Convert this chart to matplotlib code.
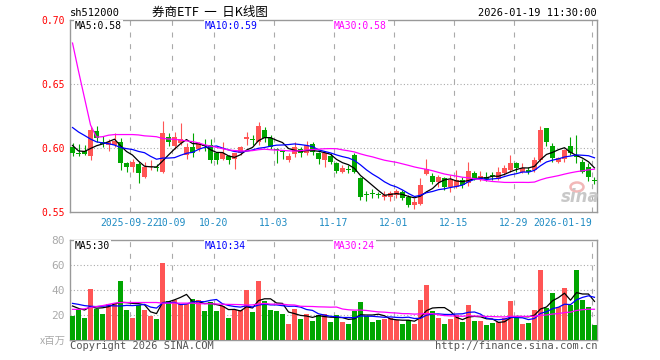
import matplotlib
matplotlib.use('Agg')
import matplotlib.pyplot as plt
from matplotlib.patches import Ellipse
import numpy as np
import pandas as pd

plt.rcParams['font.family'] = ['DejaVu Sans Mono']
CJK = ['Noto Sans CJK SC', 'DejaVu Sans']

# daily candles, 2025-09-08 .. 2026-01-19 (88 trading days)
opens = [0.6010, 0.5960, 0.5979, 0.5940, 0.6135, 0.6045, 0.6025, 0.6025, 0.6045, 0.5880,
         0.5854, 0.5875, 0.5776, 0.5848, 0.5850, 0.5815, 0.6083, 0.6016, 0.6036, 0.5945,
         0.6010, 0.5990, 0.6026, 0.6023, 0.5958, 0.5914, 0.5938, 0.5911, 0.5958, 0.6068,
         0.6065, 0.6050, 0.6141, 0.6075, 0.5988, 0.5975, 0.5906, 0.5953, 0.5990, 0.5963,
         0.6029, 0.5958, 0.5906, 0.5940, 0.5885, 0.5815, 0.5836, 0.5945, 0.5768, 0.5635,
         0.5648, 0.5636, 0.5620, 0.5615, 0.5633, 0.5659, 0.5620, 0.5554, 0.5562, 0.5797,
         0.5784, 0.5737, 0.5763, 0.5698, 0.5698, 0.5750, 0.5723, 0.5807, 0.5760, 0.5776,
         0.5782, 0.5760, 0.5807, 0.5828, 0.5880, 0.5815, 0.5828, 0.5828, 0.5906, 0.6154,
         0.6016, 0.5893, 0.5912, 0.6016, 0.5945, 0.5893, 0.5854, 0.5747]
closes = [0.5963, 0.5955, 0.5955, 0.6140, 0.6075, 0.6032, 0.6045, 0.6052, 0.5885, 0.5849,
          0.5893, 0.5807, 0.5854, 0.5860, 0.5846, 0.6120, 0.6049, 0.6083, 0.6068, 0.6010,
          0.5963, 0.6037, 0.6016, 0.5906, 0.5906, 0.5958, 0.5906, 0.5958, 0.6010, 0.6088,
          0.6060, 0.6172, 0.6075, 0.6010, 0.5984, 0.5972, 0.5938, 0.6010, 0.5958, 0.6023,
          0.5971, 0.5911, 0.5958, 0.5893, 0.5823, 0.5841, 0.5831, 0.5815, 0.5615, 0.5632,
          0.5643, 0.5632, 0.5633, 0.5646, 0.5667, 0.5608, 0.5554, 0.5580, 0.5711, 0.5834,
          0.5737, 0.5776, 0.5698, 0.5750, 0.5750, 0.5711, 0.5820, 0.5768, 0.5780, 0.5755,
          0.5778, 0.5815, 0.5841, 0.5885, 0.5841, 0.5841, 0.5812, 0.5906, 0.6141, 0.6049,
          0.5919, 0.5919, 0.5984, 0.5958, 0.5930, 0.5815, 0.5776, 0.5744]
highs = [0.6039, 0.6030, 0.6025, 0.6172, 0.6170, 0.6090, 0.6070, 0.6120, 0.6075, 0.5893,
         0.5912, 0.5893, 0.5893, 0.5906, 0.5877, 0.6210, 0.6115, 0.6125, 0.6197, 0.6041,
         0.6120, 0.6045, 0.6068, 0.6068, 0.5971, 0.6045, 0.5945, 0.5963, 0.6016, 0.6127,
         0.6102, 0.6205, 0.6167, 0.6102, 0.5998, 0.5984, 0.5963, 0.6045, 0.6010, 0.6057,
         0.6049, 0.5971, 0.5971, 0.5958, 0.5893, 0.5867, 0.5867, 0.5958, 0.5776, 0.5664,
         0.5677, 0.5656, 0.5664, 0.5664, 0.5682, 0.5672, 0.5633, 0.5607, 0.5763, 0.5912,
         0.5802, 0.5789, 0.5776, 0.5789, 0.5828, 0.5776, 0.5893, 0.5823, 0.5823, 0.5815,
         0.5815, 0.5849, 0.5867, 0.5945, 0.5893, 0.5885, 0.5854, 0.5932, 0.6172, 0.6160,
         0.6041, 0.5932, 0.5992, 0.6083, 0.6102, 0.5912, 0.5880, 0.5776]
lows = [0.5938, 0.5940, 0.5945, 0.5906, 0.6050, 0.6010, 0.5980, 0.6005, 0.5830, 0.5815,
        0.5815, 0.5729, 0.5763, 0.5830, 0.5822, 0.5802, 0.6016, 0.5995, 0.6020, 0.5912,
        0.5932, 0.5975, 0.5979, 0.5880, 0.5875, 0.5906, 0.5875, 0.5836, 0.5945, 0.6023,
        0.6023, 0.6023, 0.6045, 0.5990, 0.5885, 0.5912, 0.5891, 0.5932, 0.5932, 0.5945,
        0.5945, 0.5875, 0.5850, 0.5875, 0.5807, 0.5802, 0.5802, 0.5802, 0.5594, 0.5589,
        0.5612, 0.5612, 0.5594, 0.5586, 0.5612, 0.5594, 0.5540, 0.5523, 0.5554, 0.5789,
        0.5716, 0.5698, 0.5672, 0.5659, 0.5685, 0.5685, 0.5705, 0.5750, 0.5742, 0.5742,
        0.5750, 0.5752, 0.5789, 0.5815, 0.5815, 0.5802, 0.5797, 0.5815, 0.5893, 0.6016,
        0.5893, 0.5880, 0.5893, 0.5945, 0.5880, 0.5802, 0.5745, 0.5719]
# volume in millions
volumes = [19.2, 24.5, 17.6, 40.8, 25.1, 20.8, 28.8, 28.8, 47.2, 24.0,
           17.6, 28.0, 24.0, 19.2, 16.8, 61.6, 31.2, 32.0, 28.8, 28.8,
           32.8, 32.0, 23.2, 30.4, 23.2, 27.2, 17.6, 24.0, 24.0, 40.0,
           22.4, 47.2, 31.2, 24.0, 23.2, 20.8, 12.8, 24.8, 16.8, 20.8,
           15.2, 20.0, 20.8, 14.4, 20.0, 14.4, 12.8, 23.2, 30.4, 19.2,
           14.4, 16.0, 16.8, 17.6, 16.0, 12.8, 16.0, 12.8, 32.0, 44.0,
           23.2, 17.6, 12.8, 16.8, 20.0, 14.4, 28.0, 15.2, 15.2, 12.0,
           13.6, 14.4, 17.6, 31.2, 17.6, 12.8, 13.6, 24.0, 56.0, 25.6,
           37.6, 26.4, 41.6, 28.0, 56.0, 32.0, 26.4, 12.0]

# moving-average values before their window fills
ma5_head = [0.6020, 0.5977, 0.5973, 0.5996]
ma10_head = [0.6160, 0.6125, 0.6098, 0.6070, 0.6048, 0.6040, 0.6034, 0.6023, 0.6004]
ma30_head = [0.682, 0.660, 0.639, 0.618, 0.6085, 0.6088, 0.6100, 0.6105, 0.6105, 0.6105,
             0.6105, 0.6102, 0.6095, 0.6092, 0.6088, 0.6075, 0.6070, 0.6068, 0.6062, 0.6055,
             0.6050, 0.6040, 0.6025, 0.6015, 0.6005, 0.5995, 0.5985, 0.5980, 0.5978]
vma5_head = [27.2, 25.3, 24.0, 26.7]
vma10_head = [29.3, 28.5, 27.5, 27.0, 26.7, 27.0, 27.5, 27.3, 27.2]
vma30_head = [24.5, 24.5, 25.0, 26.0, 26.8, 27.5, 28.5, 29.5, 30.0, 30.0,
              30.0, 30.0, 30.0, 30.0, 30.0, 29.5, 29.5, 29.5, 29.5, 29.5,
              29.5, 29.0, 29.0, 29.0, 28.8, 28.6, 28.5, 28.4, 28.3]

tick_idx = [10, 17, 24, 34, 44, 54, 64, 74, 87]
tick_labels = ['2025-09-22', '10-09', '10-20', '11-03', '11-17', '12-01', '12-15', '12-29', '2026-01-19']
price_ticks = [0.55, 0.60, 0.65, 0.70]
vol_ticks = [20, 40, 60, 80]

RED = '#FF5555'
GREEN = '#00A600'
GRID = '#AAAAAA'
FRAME = '#999999'
W, H = 660, 360


def ma(values, n, head):
    out = pd.Series(values).rolling(n).mean().to_numpy()
    out[:len(head)] = head
    return out


o = np.array(opens); c = np.array(closes); hi = np.array(highs); lo = np.array(lows)
x = np.arange(len(c))
cols = [RED if cc > oo else GREEN for oo, cc in zip(o, c)]

fig = plt.figure(figsize=(6.6, 3.6), dpi=100)
ax = fig.add_axes([70 / W, 1 - 212 / H, 527 / W, 192 / H])
axv = fig.add_axes([70 / W, 1 - 340 / H, 527 / W, 100 / H])

bw = 5 / 6
xlim = (-0.42, len(c) - 0.58)
grid_x = [t - 0.42 for t in tick_idx]

# candles
ax.vlines(x, lo, hi, colors=cols, linewidth=0.8, zorder=2)
body = np.maximum(np.abs(c - o), 0.0008)
ax.bar(x, body, bottom=np.minimum(o, c), width=bw, color=cols, linewidth=0, zorder=3)
ax.plot(x, ma(closes, 5, ma5_head), color='black', lw=0.9, zorder=4)
ax.plot(x, ma(closes, 10, ma10_head), color='#0000FF', lw=0.9, zorder=4)
ax.plot(x, ma(closes, 30, ma30_head), color='#FF00FF', lw=0.9, zorder=4)

# volume
axv.bar(x, volumes, width=bw, color=cols, linewidth=0, zorder=3)
axv.plot(x, ma(volumes, 5, vma5_head), color='black', lw=0.9, zorder=4)
axv.plot(x, ma(volumes, 10, vma10_head), color='#0000FF', lw=0.9, zorder=4)
axv.plot(x, ma(volumes, 30, vma30_head), color='#FF00FF', lw=0.9, zorder=4)

ax.set_ylim(0.55, 0.70)
axv.set_ylim(0, 80)
for a in (ax, axv):
    a.set_xlim(*xlim)
    for s in a.spines.values():
        s.set_color(FRAME)
        s.set_linewidth(1)
    for gx in grid_x:
        a.axvline(gx, color=GRID, lw=0.8, ls=(0, (4.5, 6)), zorder=1)
    a.tick_params(length=0, labelsize=7)

for yv in [0.60, 0.65]:
    ax.axhline(yv, color=GRID, lw=0.8, ls=(0, (1, 2)), zorder=1)
for yv in [20, 40, 60]:
    axv.axhline(yv, color=GRID, lw=0.8, ls=(0, (1, 2)), zorder=1)

ax.set_yticks(price_ticks)
ax.set_yticklabels(['%.2f' % v for v in price_ticks], color='red')
ax.tick_params(axis='y', pad=4)
ax.set_xticks(grid_x)
ax.set_xticklabels(tick_labels, color='#1E8BC3')
ax.tick_params(axis='x', pad=4)
ax.get_xticklabels()[-1].set_ha('right')

axv.set_yticks(vol_ticks)
axv.set_yticklabels([str(v) for v in vol_ticks], color='#AAAAAA', fontsize=8)
axv.tick_params(axis='y', pad=4)
axv.set_xticks([])


def ftext(px, py, s, **kw):
    kw.setdefault('va', 'center')
    kw.setdefault('size', 7)
    fig.text(px / W, 1 - py / H, s, **kw)


box = dict(facecolor='white', edgecolor='none', pad=0.6)
ftext(70, 13, 'sh512000', size=7.5)
ftext(210, 12, '券商ETF  一  日K线图', ha='center', size=9, family=CJK)
ftext(597, 13, '2026-01-19 11:30:00', ha='right', size=7.5)
ftext(75, 26, 'MA5:0.58', color='black', bbox=box)
ftext(205, 26, 'MA10:0.59', color='#0000FF', bbox=box)
ftext(334, 26, 'MA30:0.58', color='#FF00FF', bbox=box)
ftext(75, 246, 'MA5:30', color='black', bbox=box)
ftext(205, 246, 'MA10:34', color='#0000FF', bbox=box)
ftext(334, 246, 'MA30:24', color='#FF00FF', bbox=box)
ftext(66, 341, 'x百万', ha='right', color='#AAAAAA', size=7.5, family=CJK)
ftext(70, 346, 'Copyright 2026 SINA.COM', color='#555555', size=7.5)
ftext(597, 346, 'http://finance.sina.com.cn', ha='right', color='#555555', size=7.5)

# faint sina watermark
fig.add_artist(Ellipse((577 / W, 1 - 187 / H), 13 / W, 9 / H, transform=fig.transFigure,
                       fill=False, edgecolor='#F2B8B8', lw=1.8))
ftext(580, 197, 'sina', ha='center', size=12, weight='bold', style='italic',
      color='#C8C8C8', family='DejaVu Sans')

fig.savefig('out.png', dpi=100)
